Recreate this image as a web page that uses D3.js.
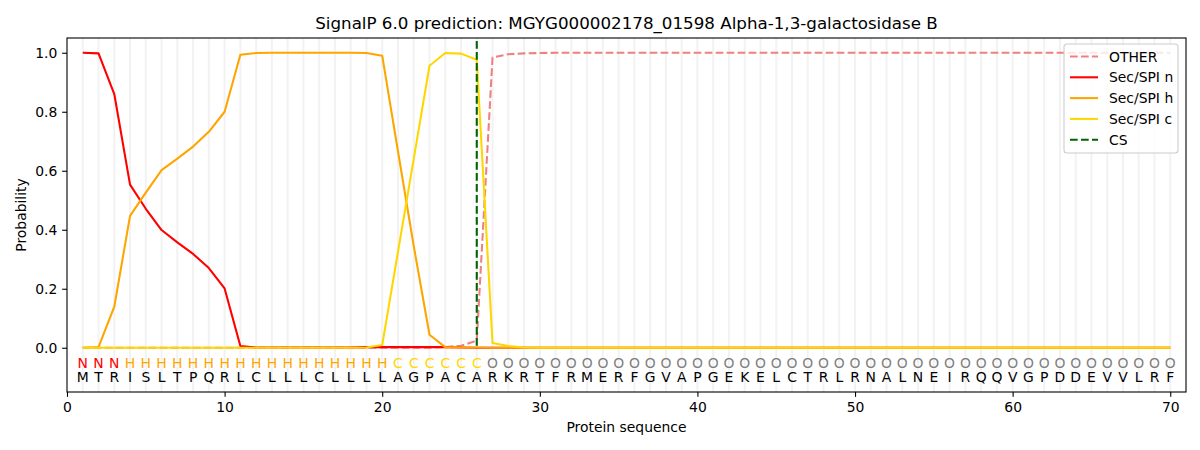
<!DOCTYPE html>
<html><head><meta charset="utf-8">
<script src="https://cdn.jsdelivr.net/npm/d3@7"></script>
<style>body{margin:0;background:#fff;} text{font-family:"DejaVu Sans",sans-serif;}</style>
</head><body><svg id="c" width="1200" height="450"></svg>
<script>
const title = "SignalP 6.0 prediction: MGYG000002178_01598 Alpha-1,3-galactosidase B";
const sequence = "MTRISLTPQRLCLLLCLLLLAGPACARKRTFRMERFGVAPGEKELCTRLRNALNEIRQQVGPDDEVVLRF".split("");
const regions = "NNNHHHHHHHHHHHHHHHHHCCCCCCOOOOOOOOOOOOOOOOOOOOOOOOOOOOOOOOOOOOOOOOOOOO".split("");
const xTicks = [0,10,20,30,40,50,60,70];
const yTicks = [0,0.2,0.4,0.6,0.8,1.0];
const csPos = 26;
// per-residue probabilities (positions 1..70)
const otherVals = [0,0,0,0,0,0,0,0,0,0, 0,0,0,0,0,0,0,0,0,0, 0,0,0,0.002,0.007,0.024,0.984,0.995,0.998,0.999].concat(Array(40).fill(1.0));
const nVals = [1.0,0.998,0.86,0.553,0.471,0.399,0.357,0.318,0.270,0.201, 0.006,0.001,0.001,0.001,0.001,0.001,0.001,0.001,0.002,0.002, 0.002,0.002,0.002,0.002,0.001,0,0,0,0,0].concat(Array(40).fill(0));
const hVals = [0,0.002,0.139,0.447,0.526,0.602,0.641,0.682,0.732,0.80, 0.993,0.999,1.0,1.0,1.0,1.0,1.0,1.0,0.999,0.99, 0.666,0.345,0.044,0.002,0.001,0.001,0,0,0,0].concat(Array(40).fill(0));
const cVals = [0,0,0,0,0,0,0,0,0,0, 0,0,0,0,0,0,0,0,0.001,0.009, 0.325,0.64,0.956,0.999,0.997,0.976,0.016,0.006,0.001,0].concat(Array(40).fill(0));

const series = [
  {name:"OTHER", vals:otherVals, color:"#F08080", dash:"7.7,3.3"},
  {name:"Sec/SPI n", vals:nVals, color:"#FF0000", dash:null},
  {name:"Sec/SPI h", vals:hVals, color:"#FFA500", dash:null},
  {name:"Sec/SPI c", vals:cVals, color:"#FFD700", dash:null}
];
const regionColor = {N:"#FF0000", H:"#FFA500", C:"#FFD700", O:"#808080"};

const svg = d3.select("#c");
const L=67, R=1186, T=38, B=392;
const x = d3.scaleLinear().domain([0,71]).range([L,R]);
const y = d3.scaleLinear().domain([-0.15,1.05]).range([B,T]);
const LW = 2.08;

// grid lines at each residue
svg.append("g").selectAll("line").data(d3.range(1,71)).join("line")
  .attr("x1",d=>x(d)).attr("x2",d=>x(d)).attr("y1",T).attr("y2",B)
  .attr("stroke","#000").attr("stroke-opacity",0.05).attr("stroke-width",LW);

const line = d3.line().x((d,i)=>x(i+1)).y(d=>y(d));
svg.append("clipPath").attr("id","cp").append("rect").attr("x",L).attr("y",T).attr("width",R-L).attr("height",B-T);
const g = svg.append("g").attr("clip-path","url(#cp)");
series.forEach(s=>{
  g.append("path").attr("d",line(s.vals)).attr("fill","none").attr("stroke",s.color)
   .attr("stroke-width",LW).attr("stroke-dasharray",s.dash).attr("stroke-linejoin","round");
});
g.append("line").attr("x1",x(csPos)).attr("x2",x(csPos)).attr("y1",y(1.04)).attr("y2",y(0))
  .attr("stroke","#006400").attr("stroke-width",LW).attr("stroke-dasharray","7.7,3.3");

// letters
svg.append("g").selectAll("text").data(regions).join("text")
  .attr("x",(d,i)=>x(i+1)).attr("y",y(-0.05)).attr("text-anchor","middle").attr("dominant-baseline","central")
  .attr("font-size",13.9).attr("fill",d=>regionColor[d]).text(d=>d);
svg.append("g").selectAll("text").data(sequence).join("text")
  .attr("x",(d,i)=>x(i+1)).attr("y",y(-0.1)).attr("text-anchor","middle").attr("dominant-baseline","central")
  .attr("font-size",13.9).attr("fill","#000").text(d=>d);

// axes
const xa = svg.append("g").attr("transform",`translate(0,${B})`).call(d3.axisBottom(x).tickValues(xTicks).tickSize(4.86).tickPadding(4.86).tickFormat(d3.format("d")));
const ya = svg.append("g").attr("transform",`translate(${L},0)`).call(d3.axisLeft(y).tickValues(yTicks).tickSize(4.86).tickPadding(4.86).tickFormat(d3.format(".1f")));
[xa,ya].forEach(a=>{a.select(".domain").remove(); a.selectAll("text").attr("font-size",13.9).attr("font-family","DejaVu Sans").attr("fill","#000"); a.selectAll("line").attr("stroke","#000").attr("stroke-width",1.1);});
svg.append("rect").attr("x",L).attr("y",T).attr("width",R-L).attr("height",B-T).attr("fill","none").attr("stroke","#000").attr("stroke-width",1.1);

svg.append("text").attr("x",(L+R)/2).attr("y",29).attr("text-anchor","middle").attr("font-size",16.7).text(title);
svg.append("text").attr("x",(L+R)/2).attr("y",432).attr("text-anchor","middle").attr("font-size",13.9).text("Protein sequence");
svg.append("text").attr("transform",`translate(26,${(T+B)/2}) rotate(-90)`).attr("text-anchor","middle").attr("font-size",13.9).text("Probability");

// legend
const legItems = series.map(s=>({name:s.name,color:s.color,dash:s.dash})).concat([{name:"CS",color:"#006400",dash:"7.7,3.3"}]);
const lg = svg.append("g").attr("transform","translate(1064,44)");
lg.append("rect").attr("width",114).attr("height",109).attr("rx",3).attr("fill","#fff").attr("fill-opacity",0.8).attr("stroke","#ccc").attr("stroke-width",1.1);
legItems.forEach((it,i)=>{
  const yy = 12.5+i*20.8;
  lg.append("line").attr("x1",6).attr("x2",34).attr("y1",yy).attr("y2",yy).attr("stroke",it.color).attr("stroke-width",LW).attr("stroke-dasharray",it.dash);
  lg.append("text").attr("x",45).attr("y",yy).attr("dominant-baseline","central").attr("font-size",13.9).text(it.name);
});
</script></body></html>
